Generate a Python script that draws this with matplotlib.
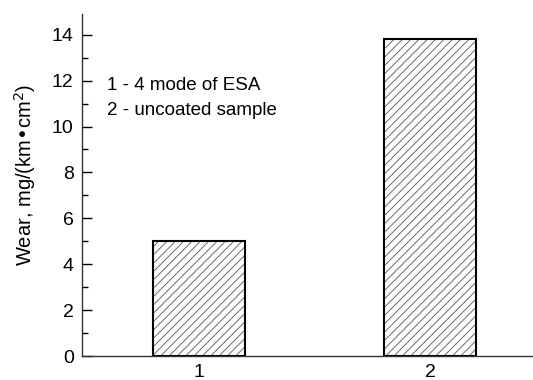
import matplotlib.pyplot as plt
from matplotlib.ticker import MultipleLocator

# Data
samples = [1, 2]
wear = [5.0, 13.8]
tick_labels = ['1', '2']
notes = ['1 - 4 mode of ESA', '2 - uncoated sample']

plt.rcParams['font.family'] = ['Liberation Sans', 'DejaVu Sans']
plt.rcParams['hatch.linewidth'] = 0.6

fig = plt.figure(figsize=(5.33, 3.8), dpi=100)
ax = fig.add_axes([0.154, 0.063, 0.846, 0.9])

# hatch layer (grey lines) and black outline on top
ax.bar(samples, wear, width=0.4, color='white', edgecolor='#555555',
       hatch='////', linewidth=0)
ax.bar(samples, wear, width=0.4, fill=False, edgecolor='black', linewidth=1.5)

ax.set_xlim(0.494, 2.446)
ax.set_ylim(0, 14.9)
ax.set_xticks(samples)
ax.set_xticklabels(tick_labels)
ax.yaxis.set_major_locator(MultipleLocator(2))
ax.yaxis.set_minor_locator(MultipleLocator(1))

ax.tick_params(axis='y', which='major', direction='in', length=7, width=1,
               labelsize=14, pad=6)
ax.tick_params(axis='y', which='minor', direction='in', length=4, width=1)
ax.tick_params(axis='x', length=0, labelsize=14, pad=6)

for s in ['top', 'right']:
    ax.spines[s].set_visible(False)
for s in ['left', 'bottom']:
    ax.spines[s].set_linewidth(1)
    ax.spines[s].set_color('#333333')

ax.set_ylabel('Wear, mg/(km\u2022cm$^2$)', fontsize=14.5)
ax.yaxis.set_label_coords(-0.098, 0.53)

ax.text(0.055, 0.778, notes[0], transform=ax.transAxes, fontsize=13.5,
        va='baseline')
ax.text(0.055, 0.705, notes[1], transform=ax.transAxes, fontsize=13.5,
        va='baseline')

fig.savefig('out.png', dpi=100)
